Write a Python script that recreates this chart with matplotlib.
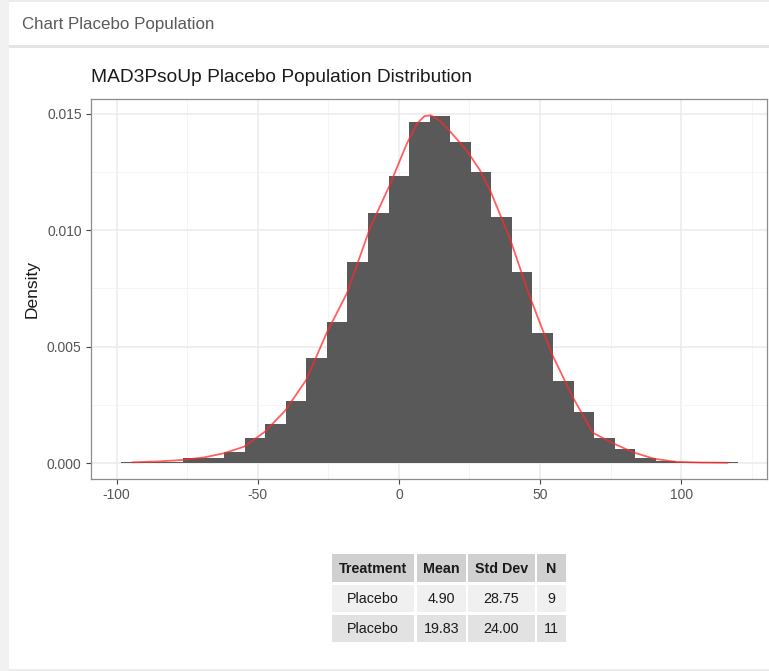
import numpy as np
import matplotlib
matplotlib.use("Agg")
import matplotlib.pyplot as plt
from matplotlib import font_manager
from matplotlib.patches import Rectangle

# ---------------- data ----------------
bin_start = -98.3
bin_width = 7.28
bar_density = [0.00004, 0.00004, 0.00006, 0.00020, 0.00020, 0.00049, 0.00109,
               0.00168, 0.00266, 0.00453, 0.00605, 0.00862, 0.01073, 0.01233,
               0.01464, 0.01491, 0.01378, 0.01252, 0.01058, 0.00822, 0.00557,
               0.00352, 0.00220, 0.00109, 0.00060, 0.00023, 0.00010, 0.00004,
               0.00004, 0.00004]

curve_x = [-94.5, -85, -76.7, -69, -62, -54.9, -47.5, -40.3, -32.9, -25.4,
           -18.4, -10.1, -3.4, 2.8, 6.4, 9.0, 11.3, 14.5, 18.1, 24, 28.7,
           32.3, 39.3, 46.4, 54.1, 61.5, 68.7, 75.8, 83.2, 90.5, 98.2, 107,
           116.5]
curve_y = [0.00003, 0.00007, 0.00013, 0.00024, 0.00042, 0.00070, 0.00134,
           0.00225, 0.00356, 0.00564, 0.00730, 0.01014, 0.01190, 0.01372,
           0.01458, 0.01490, 0.01494, 0.01470, 0.01425, 0.01343, 0.01258,
           0.01172, 0.00965, 0.00714, 0.00471, 0.00285, 0.00130, 0.00085,
           0.00045, 0.00018, 0.00005, 0.00002, 0.00001]

x_ticks = [-100, -50, 0, 50, 100]
y_ticks = [0.000, 0.005, 0.010, 0.015]
y_ticklabels = ["0.000", "0.005", "0.010", "0.015"]

table_header = ["Treatment", "Mean", "Std Dev", "N"]
table_treatment = ["Placebo", "Placebo"]
table_mean = ["4.90", "19.83"]
table_sd = ["28.75", "24.00"]
table_n = ["9", "11"]

page_title = "Chart Placebo Population"
chart_title = "MAD3PsoUp Placebo Population Distribution"
y_label = "Density"

# ---------------- fonts ----------------
names = {f.name for f in font_manager.fontManager.ttflist}
main_font = "Liberation Sans" if "Liberation Sans" in names else "DejaVu Sans"
narrow_font = "Liberation Sans Narrow" if "Liberation Sans Narrow" in names else main_font
plt.rcParams["font.family"] = [main_font, "DejaVu Sans"]

W, H = 769, 671
fig = plt.figure(figsize=(W / 100, H / 100), dpi=100)
fig.patch.set_facecolor("white")

# page decoration overlay (pixel coordinates)
deco = fig.add_axes([0, 0, 1, 1], zorder=0)
deco.set_xlim(0, W)
deco.set_ylim(H, 0)
deco.axis("off")
deco.add_patch(Rectangle((0, 0), 9, H, facecolor="#f1f1f1", edgecolor="none"))
deco.add_patch(Rectangle((9, 0), W - 9, 1.5, facecolor="#ececec", edgecolor="none"))
deco.add_patch(Rectangle((9, 45), W - 9, 2.5, facecolor="#e4e4e4", edgecolor="none"))
deco.add_patch(Rectangle((9, H - 2), W - 9, 2, facecolor="#ececec", edgecolor="none"))
deco.text(22, 25, page_title, fontsize=12.2, color="#5a5a5a", va="center",
          ha="left", family=[narrow_font, "DejaVu Sans"])

# ---------------- main plot ----------------
left, right, top, bottom = 90.7, 766.7, 99, 479.3
ax = fig.add_axes([left / W, 1 - bottom / H, (right - left) / W, (bottom - top) / H], zorder=1)
ax.set_facecolor("white")

centers = bin_start + bin_width * (np.arange(len(bar_density)) + 0.5)
ax.bar(centers, bar_density, width=bin_width, color="#595959", edgecolor="none",
       linewidth=0, zorder=2)
ax.plot(curve_x, curve_y, color="#ff2a2a", alpha=0.75, linewidth=1.3, zorder=3,
        solid_capstyle="round", solid_joinstyle="round")

ax.set_xlim(-109.2, 130.3)
ax.set_ylim(-0.0007, 0.01564)
ax.set_xticks(x_ticks)
ax.set_xticklabels([str(v) for v in x_ticks])
ax.set_yticks(y_ticks)
ax.set_yticklabels(y_ticklabels)
ax.set_xticks([-75, -25, 25, 75, 125], minor=True)
ax.set_yticks([0.0025, 0.0075, 0.0125], minor=True)
ax.grid(True, which="major", color="#ebebeb", linewidth=1.1, zorder=0)
ax.grid(True, which="minor", color="#f4f4f4", linewidth=0.7, zorder=0)
ax.set_axisbelow(True)
ax.tick_params(which="major", length=3.5, width=0.8, color="#444444",
               labelsize=10, labelcolor="#555555", pad=3)
ax.tick_params(which="minor", length=0)
for s in ax.spines.values():
    s.set_color("#8c8c8c")
    s.set_linewidth(0.9)

ax.set_ylabel(y_label, fontsize=12.5, color="#1a1a1a", labelpad=5)
deco.text(left, 82, chart_title, fontsize=13.8, color="#1a1a1a", ha="left", va="baseline")

# ---------------- table ----------------
col_edges = [(331.7, 414.3), (416.7, 465.7), (468.0, 535.0), (537.3, 566.0)]
row_edges = [(554.0, 582.3), (585.0, 611.7), (615.0, 641.7)]
row_colors = ["#d0d0d0", "#f0f0f0", "#e2e2e2"]
rows = [table_header] + [list(r) for r in zip(table_treatment, table_mean, table_sd, table_n)]
for ri, (r0, r1) in enumerate(row_edges):
    for ci, (c0, c1) in enumerate(col_edges):
        deco.add_patch(Rectangle((c0, r0), c1 - c0, r1 - r0,
                                 facecolor=row_colors[ri], edgecolor="none"))
        deco.text((c0 + c1) / 2, (r0 + r1) / 2 + 0.5, rows[ri][ci],
                  ha="center", va="center", fontsize=10.3,
                  fontweight="bold" if ri == 0 else "normal",
                  color="#1a1a1a", family=[narrow_font, "DejaVu Sans"])

fig.savefig("out.png", dpi=100)
